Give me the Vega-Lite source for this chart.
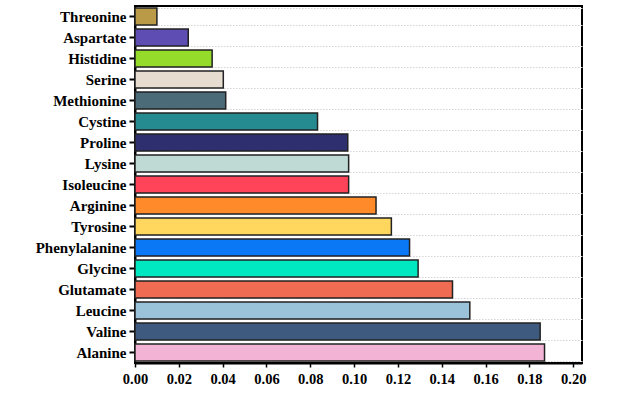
{
  "$schema": "https://vega.github.io/schema/vega-lite/v6.json",
  "autosize": "none",
  "width": 447,
  "height": 357,
  "padding": {"left": 135, "top": 6, "right": 47, "bottom": 31},
  "background": "white",
  "config": {
    "view": {"stroke": "black", "strokeWidth": 2},
    "font": "Liberation Serif"
  },
  "data": {
    "values": [
      {"amino": "Threonine", "value": 0.0100, "color": "#BA9A46"},
      {"amino": "Aspartate", "value": 0.0243, "color": "#5E4DB2"},
      {"amino": "Histidine", "value": 0.0352, "color": "#94DB2A"},
      {"amino": "Serine", "value": 0.0403, "color": "#E6DDD0"},
      {"amino": "Methionine", "value": 0.0414, "color": "#4C6B78"},
      {"amino": "Cystine", "value": 0.0833, "color": "#268A91"},
      {"amino": "Proline", "value": 0.0971, "color": "#2E2F6E"},
      {"amino": "Lysine", "value": 0.0975, "color": "#BFDAD4"},
      {"amino": "Isoleucine", "value": 0.0975, "color": "#FF4459"},
      {"amino": "Arginine", "value": 0.1100, "color": "#FF8A2A"},
      {"amino": "Tyrosine", "value": 0.1170, "color": "#FFD65E"},
      {"amino": "Phenylalanine", "value": 0.1253, "color": "#0A77F5"},
      {"amino": "Glycine", "value": 0.1292, "color": "#00E8C2"},
      {"amino": "Glutamate", "value": 0.1449, "color": "#EF6B52"},
      {"amino": "Leucine", "value": 0.1528, "color": "#9AC2D9"},
      {"amino": "Valine", "value": 0.1849, "color": "#3E5A7E"},
      {"amino": "Alanine", "value": 0.1869, "color": "#F2B3D4"}
    ]
  },
  "resolve": {"axis": {"y": "independent"}},
  "layer": [
    {
      "mark": {"type": "bar", "opacity": 0},
      "encoding": {
        "y": {
          "field": "amino", "type": "nominal",
          "sort": ["Threonine","Aspartate","Histidine","Serine","Methionine","Cystine","Proline","Lysine","Isoleucine","Arginine","Tyrosine","Phenylalanine","Glycine","Glutamate","Leucine","Valine","Alanine"],
          "scale": {"paddingInner": 0.2, "paddingOuter": 0.1},
          "axis": {"orient": "right", "title": null, "labels": false, "ticks": false, "domain": false, "grid": true, "tickBand": "extent", "gridColor": "#d4d4d4", "gridDash": [1.5, 1.5], "gridWidth": 1}
        },
        "x": {"field": "value", "type": "quantitative", "scale": {"domain": [0, 0.204], "nice": false, "zero": true}}
      }
    },
    {
      "mark": {"type": "bar", "stroke": "#222222", "strokeWidth": 1.5},
      "encoding": {
        "y": {
          "field": "amino", "type": "nominal",
          "sort": ["Threonine","Aspartate","Histidine","Serine","Methionine","Cystine","Proline","Lysine","Isoleucine","Arginine","Tyrosine","Phenylalanine","Glycine","Glutamate","Leucine","Valine","Alanine"],
          "scale": {"paddingInner": 0.2, "paddingOuter": 0.1},
          "axis": {"orient": "left", "title": null, "grid": false, "domain": true, "domainColor": "black", "domainWidth": 2, "ticks": true, "tickColor": "black", "tickWidth": 2, "tickSize": 6, "labelFont": "Liberation Serif", "labelFontWeight": "bold", "labelFontSize": 15, "labelColor": "black", "labelPadding": 3}
        },
        "x": {
          "field": "value", "type": "quantitative",
          "scale": {"domain": [0, 0.204], "nice": false, "zero": true},
          "axis": {"title": null, "grid": false, "domain": true, "domainColor": "black", "domainWidth": 2, "tickColor": "black", "tickWidth": 1.5, "tickSize": 4,
            "values": [0,0.005,0.01,0.015,0.02,0.025,0.03,0.035,0.04,0.045,0.05,0.055,0.06,0.065,0.07,0.075,0.08,0.085,0.09,0.095,0.1,0.105,0.11,0.115,0.12,0.125,0.13,0.135,0.14,0.145,0.15,0.155,0.16,0.165,0.17,0.175,0.18,0.185,0.19,0.195,0.2],
            "labelExpr": "abs(datum.value*50 - round(datum.value*50)) < 0.001 ? format(datum.value, '.2f') : ''",
            "labelFont": "Liberation Serif", "labelFontWeight": "bold", "labelFontSize": 14.5, "labelColor": "black", "labelPadding": 5, "labelFlush": false, "labelOverlap": false}
        },
        "color": {"field": "color", "type": "nominal", "scale": null, "legend": null}
      }
    }
  ]
}
